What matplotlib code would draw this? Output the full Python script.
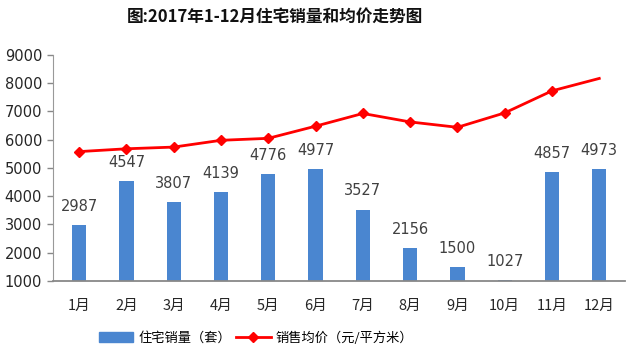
import matplotlib
matplotlib.use("Agg")
import matplotlib.pyplot as plt
from matplotlib.lines import Line2D
from matplotlib.patches import Patch

plt.rcParams['font.family'] = ['Noto Sans CJK SC', 'DejaVu Sans']

months = ["1月", "2月", "3月", "4月", "5月", "6月", "7月", "8月", "9月", "10月", "11月", "12月"]
sales = [2987, 4547, 3807, 4139, 4776, 4977, 3527, 2156, 1500, 1027, 4857, 4973]
price = [5580, 5680, 5740, 5980, 6050, 6480, 6930, 6630, 6440, 6950, 7730, 8170]
yticks = [1000, 2000, 3000, 4000, 5000, 6000, 7000, 8000, 9000]

fig = plt.figure(figsize=(6.4, 3.52), dpi=100)
ax = fig.add_axes([0.083, 0.2017, 0.894, 0.6421])

x = list(range(len(months)))
bar_color = '#4a86d0'
ax.bar(x, sales, width=0.3, color=bar_color, zorder=2)
ax.plot(x, price, color='#ff0000', lw=2.0, marker='D', markersize=5.5,
        markevery=list(range(len(months) - 1)), zorder=3)

for xi, v in zip(x, sales):
    ax.annotate(str(v), (xi, v), xytext=(0, 8), textcoords='offset points',
                ha='center', va='bottom', fontsize=10.5, color='#404040',
                family='DejaVu Sans')

ax.set_ylim(1000, 9000)
ax.set_xlim(-0.55, len(months) - 0.45)
ax.set_yticks(yticks)
ax.set_yticklabels([str(t) for t in yticks], family='DejaVu Sans', fontsize=10.5, color='#262626')
ax.set_xticks(x)
ax.set_xticklabels(months, fontsize=10.5, color='#262626')
ax.tick_params(axis='x', length=0, pad=13)
ax.tick_params(axis='y', length=4, width=1, color='#888888', pad=4)

for s in ['top', 'right']:
    ax.spines[s].set_visible(False)
ax.spines['left'].set_color('#999999')
ax.spines['bottom'].set_color('#888888')
ax.spines['bottom'].set_linewidth(1.3)

fig.text(0.43, 0.952, "图:2017年1-12月住宅销量和均价走势图", ha='center', va='center',
         fontsize=12, fontweight='bold', color='#111111')

handles = [Patch(color=bar_color),
           Line2D([0], [0], color='#ff0000', lw=2, marker='D', markersize=5.5, markevery=[0])]
labels = ["住宅销量（套）", "销售均价（元/平方米）"]
fig.legend(handles, labels, loc='center', bbox_to_anchor=(0.40, 0.04), ncol=2,
           frameon=False, fontsize=9.5, handlelength=2.6, columnspacing=0.4,
           handletextpad=0.4)

fig.savefig("out.png", dpi=100)
